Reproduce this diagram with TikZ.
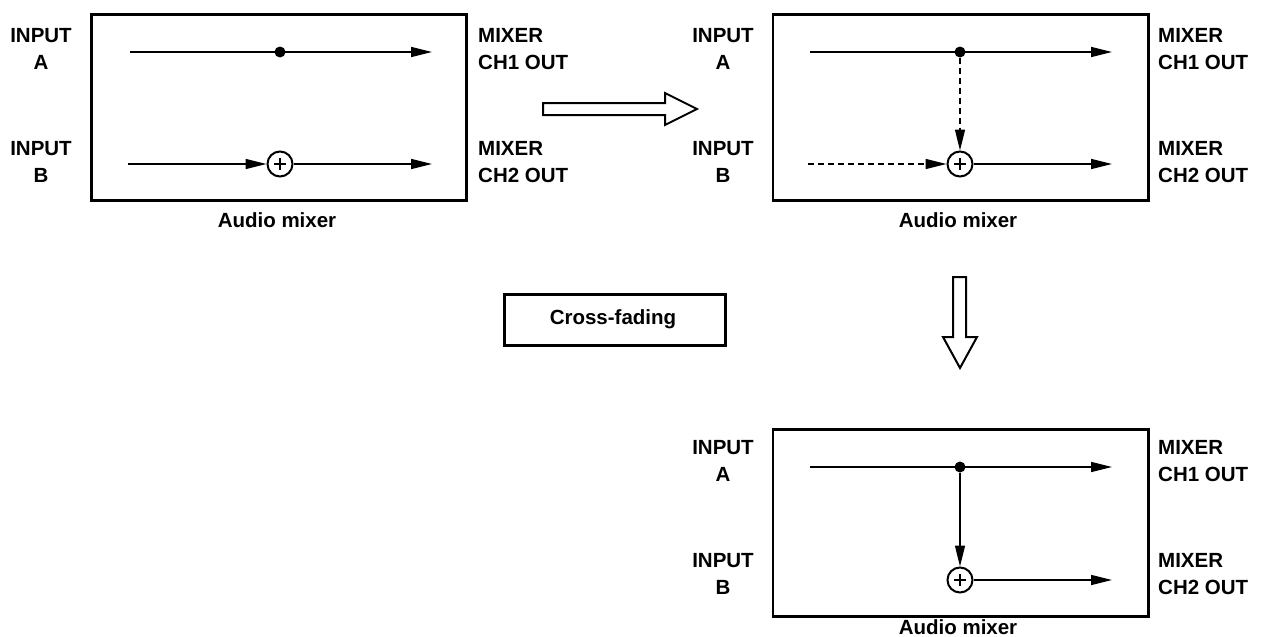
\documentclass[tikz,border=0pt]{standalone}
\usepackage{fontspec}
\setmainfont{Liberation Sans}
\usetikzlibrary{arrows.meta}
\begin{document}
\begin{tikzpicture}[x=1pt,y=-1pt,
  every node/.style={inner sep=0pt},
  lbl/.style={font=\fontsize{20.5}{27}\selectfont\bfseries, align=center},
  rlbl/.style={lbl, align=left, anchor=west},
  mixbox/.style={draw, line width=2.6pt, minimum width=375.4pt, minimum height=186.4pt},
  sig/.style={line width=1.3pt, -{Triangle[length=21pt,width=10pt]}},
  dsig/.style={sig, dash pattern=on 6pt off 4pt},
  junc/.style={circle, fill, minimum size=11pt},
  sum/.style={circle, draw, fill=white, line width=2pt, minimum size=25pt,
    path picture={
      \draw[line width=2.2pt] ([xshift=-6pt]path picture bounding box.center) -- ([xshift=6pt]path picture bounding box.center);
      \draw[line width=2.2pt] ([yshift=-6pt]path picture bounding box.center) -- ([yshift=6pt]path picture bounding box.center);
    }},
  hollow/.style={draw, line width=2pt, fill=white, line join=miter}
]
\useasboundingbox (0,0) rectangle (1262,637);

% ---------- Mixer 1 ----------
\node[mixbox] (m1) at (279,107.5) {};
\node[lbl] (m1cap) at (277,220) {Audio mixer};
\node[lbl] (m1ina) at (41,49) {INPUT\\A};
\node[lbl] (m1inb) at (41,162) {INPUT\\B};
\node[rlbl] (m1outa) at (478,49) {MIXER\\CH1 OUT};
\node[rlbl] (m1outb) at (478,162) {MIXER\\CH2 OUT};
\coordinate (a1in) at (130,52);
\coordinate (a1out) at (432,52);
\coordinate (b1in) at (128,164);
\coordinate (b1out) at (432,164);
\node[sum] (s1) at (280,164) {};
\draw[sig] (a1in) -- (a1out);
\node[junc] (d1) at (280,52) {};
\draw[sig] (b1in) -- (s1);
\draw[sig] (s1) -- (b1out);

% ---------- Mixer 2 ----------
\node[mixbox] (m2) at (960.5,107.5) {};
\node[lbl] (m2cap) at (958,220) {Audio mixer};
\node[lbl] (m2ina) at (723,49) {INPUT\\A};
\node[lbl] (m2inb) at (723,162) {INPUT\\B};
\node[rlbl] (m2outa) at (1158,49) {MIXER\\CH1 OUT};
\node[rlbl] (m2outb) at (1158,162) {MIXER\\CH2 OUT};
\coordinate (a2in) at (810,52);
\coordinate (a2out) at (1112,52);
\coordinate (b2in) at (808,164);
\coordinate (b2out) at (1112,164);
\node[sum] (s2) at (960,164) {};
\draw[sig] (a2in) -- (a2out);
\node[junc] (d2) at (960,52) {};
\draw[dsig] (d2) -- (s2);
\draw[dsig] (b2in) -- (s2);
\draw[sig] (s2) -- (b2out);

% ---------- Mixer 3 ----------
\node[mixbox, minimum height=187.4pt] (m3) at (960.5,523) {};
\node[lbl] (m3cap) at (958,627) {Audio mixer};
\node[lbl] (m3ina) at (723,461) {INPUT\\A};
\node[lbl] (m3inb) at (723,574) {INPUT\\B};
\node[rlbl] (m3outa) at (1158,461) {MIXER\\CH1 OUT};
\node[rlbl] (m3outb) at (1158,574) {MIXER\\CH2 OUT};
\coordinate (a3in) at (810,467);
\coordinate (a3out) at (1112,467);
\coordinate (b3out) at (1112,580);
\node[sum] (s3) at (960,580) {};
\draw[sig] (a3in) -- (a3out);
\node[junc] (d3) at (960,467) {};
\draw[sig] (d3) -- (s3);
\draw[sig] (s3) -- (b3out);

% ---------- Cross-fading label ----------
\node[draw, line width=2.6pt, minimum width=221.4pt, minimum height=51.4pt] (cf) at (615,320) {};
\node[lbl] (cft) at (613,319) {Cross-fading};

% ---------- Hollow arrows ----------
\path[hollow] (543,103) -- (665,103) -- (665,93) -- (697,109) -- (665,125) -- (665,115) -- (543,115) -- cycle;
\path[hollow] (953,277) -- (966,277) -- (966,337) -- (977,337) -- (960,368) -- (943,337) -- (953,337) -- cycle;
\end{tikzpicture}
\end{document}
